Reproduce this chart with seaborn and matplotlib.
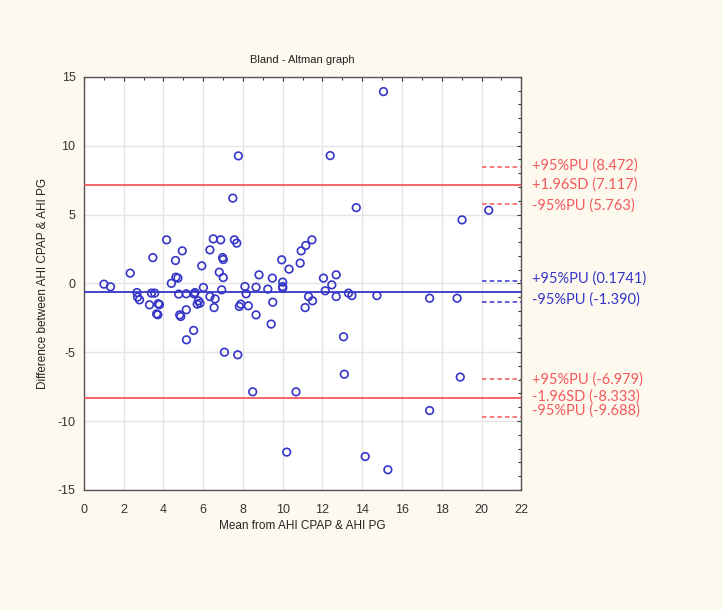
import numpy as np
import pandas as pd
import matplotlib
matplotlib.use("Agg")
import matplotlib.pyplot as plt
import seaborn as sns

# ---- data (mean of methods, difference of methods) ----
mean_vals = [
    1.01, 1.34, 2.33, 2.67, 2.70, 2.80, 3.47, 3.40, 3.56, 3.30, 3.74, 3.80, 3.66, 3.72,
    4.16, 4.95, 4.61, 4.63, 4.73, 4.40, 4.77, 5.15, 5.54, 5.15, 4.87, 4.82, 5.52, 5.16,
    6.51, 6.88, 7.57, 7.69, 6.34, 6.98, 7.01, 5.93, 6.81, 7.01, 6.01, 5.59, 6.93, 5.76,
    5.84, 5.70, 6.34, 6.60, 6.55, 8.10, 8.16, 7.89, 7.82, 8.27, 8.66, 9.42, 8.81, 9.48,
    8.66, 9.25, 9.50, 9.95, 10.32, 10.00, 10.00, 10.00,
    11.47, 11.16, 10.93, 10.88, 12.05, 12.69, 12.47, 12.14, 11.30, 11.50, 11.13, 12.69,
    13.31, 13.48, 14.74, 13.06,
    7.77, 7.49, 15.07, 12.39, 13.70, 19.02, 20.36, 17.39, 18.77,
    7.07, 7.74, 8.49, 10.67, 10.20, 13.10, 18.93, 17.39, 14.15, 15.29,
]
diff_vals = [
    -0.06, -0.25, 0.74, -0.67, -1.00, -1.20, 1.87, -0.71, -0.71, -1.56, -1.48, -1.55, -2.22, -2.28,
    3.16, 2.36, 1.66, 0.45, 0.38, 0.00, -0.78, -0.76, -0.76, -1.92, -2.41, -2.29, -3.42, -4.10,
    3.23, 3.16, 3.16, 2.92, 2.43, 1.87, 1.73, 1.27, 0.81, 0.42, -0.30, -0.67, -0.47, -1.27,
    -1.44, -1.51, -0.96, -1.13, -1.76, -0.23, -0.76, -1.51, -1.68, -1.63, -2.29, -2.96, 0.62, 0.38,
    -0.28, -0.42, -1.37, 1.71, 1.03, 0.09, -0.23, -0.35,
    3.16, 2.75, 2.36, 1.47, 0.38, 0.62, -0.11, -0.54, -0.96, -1.27, -1.76, -0.96,
    -0.71, -0.89, -0.89, -3.88,
    9.26, 6.19, 13.93, 9.28, 5.50, 4.61, 5.31, -1.08, -1.08,
    -5.00, -5.19, -7.88, -7.88, -12.26, -6.60, -6.81, -9.24, -12.58, -13.54,
]

mean_diff = -0.608
upper_sd = 7.117
lower_sd = -8.333
# 95% confidence limits (PU) around each line
upper_pu = [8.472, 5.763]
mean_pu = [0.1741, -1.390]
lower_pu = [-6.979, -9.688]

label_texts = [
    "+95%PU (8.472)", "+1.96SD (7.117)", "-95%PU (5.763)",
    "+95%PU (0.1741)", "-95%PU (-1.390)",
    "+95%PU (-6.979)", "-1.96SD (-8.333)", "-95%PU (-9.688)",
]

RED = "#f5595b"
BLUE = "#3535c8"
BG = "#fdf9ef"

df = pd.DataFrame({"mean": mean_vals, "diff": diff_vals})

sns.set_theme(style="white")
plt.rcParams['font.family'] = ['Liberation Sans', 'DejaVu Sans']
plt.rcParams['axes.unicode_minus'] = False

fig = plt.figure(figsize=(7.23, 6.10), dpi=100, facecolor=BG)
ax = fig.add_axes([0.116, 0.197, 0.605, 0.677])
ax.set_facecolor("white")

sns.scatterplot(data=df, x="mean", y="diff", ax=ax, marker="o", s=30,
                facecolors="none", edgecolor=BLUE, linewidth=1.2, zorder=4)

ax.axhline(upper_sd, color=RED, lw=1.3, zorder=3)
ax.axhline(lower_sd, color=RED, lw=1.3, zorder=3)
ax.axhline(mean_diff, color=BLUE, lw=1.3, zorder=3)

dash = (0, (3, 2))
ax.hlines(upper_pu + lower_pu, 20, 22, colors=RED, linestyles=dash, lw=1.1, zorder=3)
ax.hlines(mean_pu, 20, 22, colors=BLUE, linestyles=dash, lw=1.1, zorder=3)

ax.set_xlim(0, 22)
ax.set_ylim(-15, 15)
ax.set_xticks(np.arange(0, 23, 2))
ax.set_yticks(np.arange(-15, 16, 5))
ax.set_xticks(np.arange(0, 23, 1), minor=True)
ax.set_yticks(np.arange(-15, 16, 1), minor=True)
ax.grid(True, which="major", color="#e4e4e4", lw=1.0)
ax.tick_params(which="both", direction="in", top=True, right=True, colors="#333333",
               labelcolor="#333333", labelsize=9)
ax.tick_params(axis="x", which="major", pad=10)
ax.tick_params(axis="y", which="major", pad=6)
ax.tick_params(which="major", length=3, width=0.8)
ax.tick_params(which="minor", length=2.5, width=0.8)
for s in ax.spines.values():
    s.set_color("#555555")
    s.set_linewidth(1.0)

ax.set_title("Bland - Altman graph", fontsize=8, pad=10, color="#222222")
ax.set_xlabel("Mean from AHI CPAP & AHI PG", fontsize=8.5, labelpad=3, color="#222222")
ax.set_ylabel("Difference between AHI CPAP & AHI PG", fontsize=8.5, labelpad=6, color="#222222")

# labels on the right, nudged apart where they would overlap
label_vals = [upper_pu[0], upper_sd, upper_pu[1], mean_pu[0], mean_pu[1],
              lower_pu[0], lower_sd, lower_pu[1]]
nudges = [0.1, 0.05, -0.1, 0.15, 0.2, 0.0, 0.1, 0.45]
label_cols = [RED, RED, RED, BLUE, BLUE, RED, RED, RED]
for txt, v, dy, c in zip(label_texts, label_vals, nudges, label_cols):
    ax.text(22.55, v + dy, txt, color=c, fontsize=10.5, va="center", ha="left",
            family=["Lato", "DejaVu Sans"], clip_on=False)

fig.savefig("out.png", dpi=100, facecolor=BG)
